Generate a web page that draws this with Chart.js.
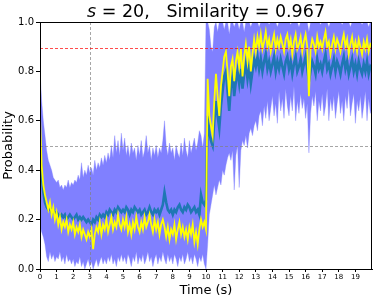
<!DOCTYPE html>
<html>
<head>
<meta charset="utf-8">
<script src="https://cdn.jsdelivr.net/npm/chart.js@4"></script>
<style>
  html, body { margin: 0; padding: 0; background: #fff; }
  #wrap { width: 374px; height: 302px; position: relative; }
</style>
</head>
<body>
<div id="wrap"><canvas id="simChart"></canvas></div>
<script>
// sampled every 0.1 s, from 0 to 20 s
const sampleStep = 0.1;
const xTicks = [0,1,2,3,4,5,6,7,8,9,10,11,12,13,14,15,16,17,18,19];
const yTicks = [0, 0.2, 0.4, 0.6, 0.8, 1.0];

const trueProb = [
  0.62,0.42,0.34,0.30,0.27,0.24,0.27,0.22,0.25,0.20,
  0.23,0.18,0.21,0.16,0.19,0.17,0.20,0.15,0.18,0.16,
  0.19,0.14,0.17,0.15,0.18,0.13,0.16,0.14,0.12,0.15,
  0.13,0.16,0.08,0.14,0.17,0.15,0.19,0.14,0.18,0.16,
  0.20,0.15,0.18,0.21,0.16,0.19,0.17,0.22,0.18,0.16,
  0.20,0.17,0.21,0.15,0.18,0.14,0.19,0.16,0.21,0.17,
  0.15,0.19,0.16,0.21,0.17,0.19,0.22,0.18,0.15,0.20,
  0.16,0.19,0.14,0.18,0.20,0.17,0.13,0.17,0.12,0.16,
  0.14,0.18,0.12,0.16,0.19,0.14,0.17,0.13,0.16,0.12,
  0.17,0.14,0.18,0.11,0.15,0.10,0.16,0.20,0.17,0.19,
  0.16,0.77,0.62,0.58,0.54,0.68,0.79,0.70,0.62,0.74,
  0.80,0.86,0.88,0.80,0.70,0.82,0.85,0.76,0.84,0.88,
  0.82,0.89,0.78,0.86,0.91,0.84,0.90,0.80,0.87,0.93,
  0.88,0.94,0.90,0.95,0.89,0.92,0.96,0.90,0.93,0.88,
  0.92,0.95,0.89,0.93,0.90,0.94,0.91,0.88,0.93,0.95,
  0.90,0.93,0.87,0.92,0.95,0.89,0.91,0.94,0.88,0.92,
  0.95,0.90,0.70,0.89,0.93,0.91,0.88,0.94,0.90,0.92,
  0.89,0.93,0.96,0.90,0.92,0.87,0.91,0.94,0.89,0.93,
  0.91,0.88,0.92,0.95,0.90,0.93,0.87,0.91,0.94,0.89,
  0.92,0.88,0.93,0.90,0.87,0.92,0.89,0.93,0.88,0.91,
  0.90
];

const meanProb = [
  0.48,0.38,0.31,0.27,0.25,0.24,0.25,0.23,0.24,0.22,
  0.23,0.22,0.21,0.22,0.21,0.22,0.20,0.21,0.22,0.21,
  0.20,0.21,0.22,0.20,0.21,0.20,0.21,0.20,0.19,0.20,
  0.19,0.18,0.20,0.19,0.21,0.20,0.22,0.21,0.22,0.21,
  0.23,0.22,0.24,0.23,0.22,0.24,0.23,0.25,0.24,0.23,
  0.24,0.23,0.25,0.24,0.22,0.24,0.23,0.25,0.24,0.23,
  0.24,0.22,0.23,0.24,0.22,0.23,0.25,0.23,0.22,0.24,
  0.23,0.24,0.22,0.24,0.26,0.31,0.27,0.24,0.23,0.24,
  0.22,0.24,0.23,0.25,0.26,0.24,0.23,0.25,0.24,0.26,
  0.25,0.23,0.24,0.25,0.23,0.24,0.22,0.30,0.27,0.26,
  0.28,0.62,0.55,0.52,0.50,0.60,0.68,0.62,0.57,0.66,
  0.72,0.78,0.80,0.72,0.64,0.74,0.78,0.70,0.76,0.80,
  0.75,0.81,0.73,0.79,0.83,0.77,0.82,0.75,0.80,0.85,
  0.82,0.86,0.81,0.85,0.80,0.84,0.87,0.81,0.84,0.80,
  0.83,0.86,0.80,0.84,0.81,0.85,0.82,0.79,0.84,0.86,
  0.81,0.84,0.79,0.83,0.86,0.80,0.82,0.85,0.80,0.83,
  0.86,0.81,0.76,0.80,0.84,0.82,0.79,0.85,0.81,0.83,
  0.80,0.84,0.87,0.81,0.83,0.79,0.82,0.85,0.80,0.84,
  0.82,0.79,0.83,0.86,0.81,0.84,0.79,0.82,0.85,0.80,
  0.83,0.79,0.84,0.81,0.79,0.83,0.80,0.84,0.79,0.82,
  0.81
];

const bandUpper = [
  0.80,0.68,0.60,0.54,0.48,0.44,0.42,0.40,0.37,0.36,
  0.35,0.36,0.33,0.34,0.32,0.34,0.33,0.36,0.33,0.35,
  0.34,0.36,0.35,0.38,0.36,0.43,0.37,0.40,0.38,0.42,
  0.39,0.41,0.38,0.44,0.40,0.43,0.41,0.45,0.42,0.46,
  0.43,0.47,0.44,0.50,0.45,0.54,0.47,0.52,0.46,0.55,
  0.48,0.53,0.46,0.50,0.45,0.51,0.47,0.49,0.44,0.50,
  0.46,0.52,0.45,0.48,0.54,0.47,0.50,0.44,0.49,0.46,
  0.50,0.45,0.49,0.47,0.52,0.60,0.50,0.46,0.51,0.47,
  0.49,0.44,0.50,0.47,0.45,0.51,0.46,0.53,0.48,0.45,
  0.52,0.47,0.50,0.53,0.48,0.51,0.56,0.54,0.49,0.55,
  1.00,1.00,0.97,0.90,0.88,0.98,1.00,0.96,1.00,1.00,
  1.00,0.97,1.00,1.00,0.95,1.00,1.00,0.98,1.00,1.00,
  0.97,1.00,1.00,0.96,1.00,1.00,1.00,0.98,1.00,1.00,
  1.00,1.00,0.98,1.00,1.00,1.00,1.00,1.00,0.99,1.00,
  1.00,1.00,1.00,0.98,1.00,1.00,1.00,1.00,1.00,1.00,
  1.00,0.99,1.00,1.00,1.00,1.00,0.98,1.00,1.00,1.00,
  1.00,1.00,0.96,1.00,1.00,1.00,1.00,1.00,1.00,0.99,
  1.00,1.00,1.00,1.00,0.98,1.00,1.00,1.00,1.00,1.00,
  1.00,1.00,0.99,1.00,1.00,1.00,1.00,0.98,1.00,1.00,
  1.00,1.00,1.00,1.00,0.99,1.00,1.00,1.00,0.98,1.00,
  1.00
];

const bandLower = [
  0.18,0.15,0.13,0.10,0.05,0.03,0.07,0.04,0.06,0.03,
  0.05,0.04,0.07,0.03,0.05,0.02,0.06,0.03,0.04,0.02,
  0.04,0.01,0.03,0.02,0.05,0.01,0.03,0.00,0.02,0.04,
  0.01,0.03,0.00,0.02,0.04,0.01,0.03,0.05,0.02,0.04,
  0.02,0.05,0.03,0.06,0.02,0.04,0.01,0.05,0.03,0.06,
  0.03,0.05,0.02,0.06,0.04,0.01,0.05,0.03,0.07,0.02,
  0.05,0.03,0.06,0.02,0.04,0.07,0.03,0.05,0.01,0.04,
  0.06,0.02,0.05,0.03,0.07,0.04,0.02,0.06,0.03,0.05,
  0.02,0.06,0.04,0.01,0.05,0.03,0.06,0.02,0.04,0.07,
  0.03,0.05,0.02,0.06,0.04,0.01,0.05,0.03,0.06,0.02,
  0.00,0.10,0.22,0.26,0.30,0.34,0.30,0.33,0.36,0.34,
  0.40,0.38,0.42,0.45,0.47,0.44,0.48,0.32,0.46,0.50,
  0.33,0.48,0.52,0.50,0.54,0.49,0.55,0.57,0.54,0.58,
  0.60,0.56,0.62,0.64,0.58,0.66,0.61,0.68,0.60,0.65,
  0.70,0.62,0.67,0.59,0.72,0.64,0.69,0.61,0.73,0.66,
  0.62,0.70,0.64,0.74,0.60,0.68,0.63,0.71,0.65,0.69,
  0.61,0.67,0.47,0.63,0.70,0.66,0.72,0.60,0.68,0.64,
  0.71,0.62,0.66,0.73,0.60,0.69,0.64,0.70,0.61,0.67,
  0.72,0.63,0.68,0.60,0.70,0.65,0.73,0.62,0.67,0.71,
  0.59,0.68,0.64,0.70,0.61,0.66,0.72,0.60,0.69,0.63,
  0.66
];

// reference lines: threshold, chance level, marker time
const thresholdLevel = 0.893;
const chanceLevel = 0.5;
const markerTime = 3;

const toPoints = arr => arr.map((v, i) => ({ x: +(i * sampleStep).toFixed(1), y: v }));

const font = "'DejaVu Sans', sans-serif";

const framePlugin = {
  id: "frame",
  afterDatasetsDraw(chart) {
    const { ctx, chartArea: a, scales: { x, y } } = chart;
    ctx.save();
    ctx.beginPath();
    ctx.rect(a.left, a.top, a.right - a.left, a.bottom - a.top);
    ctx.clip();
    ctx.lineWidth = 1;
    ctx.setLineDash([3, 2]);
    // chance level + marker
    ctx.strokeStyle = "rgba(128,128,128,0.7)";
    let py = Math.round(y.getPixelForValue(chanceLevel)) + 0.5;
    ctx.beginPath(); ctx.moveTo(a.left, py); ctx.lineTo(a.right, py); ctx.stroke();
    let px = Math.round(x.getPixelForValue(markerTime)) + 0.5;
    ctx.beginPath(); ctx.moveTo(px, a.top); ctx.lineTo(px, a.bottom); ctx.stroke();
    // threshold
    ctx.strokeStyle = "rgba(255,0,0,0.7)";
    py = Math.round(y.getPixelForValue(thresholdLevel)) + 0.5;
    ctx.beginPath(); ctx.moveTo(a.left, py); ctx.lineTo(a.right, py); ctx.stroke();
    ctx.restore();
  },
  afterDraw(chart) {
    const { ctx, chartArea: a } = chart;
    ctx.save();
    ctx.strokeStyle = "#000";
    ctx.lineWidth = 1;
    ctx.strokeRect(Math.round(a.left) + 0.5, Math.round(a.top) + 0.5,
      Math.round(a.right - a.left) - 1, Math.round(a.bottom - a.top));

    // title: italic s, rest upright
    const cx = (a.left + a.right) / 2;
    const part1 = "s";
    const part2 = " = 20,   Similarity = 0.967";
    const size = 17.5;
    ctx.fillStyle = "#000";
    ctx.textBaseline = "alphabetic";
    ctx.font = "italic " + size + "px " + font;
    const w1 = ctx.measureText(part1).width;
    ctx.font = size + "px " + font;
    const w2 = ctx.measureText(part2).width;
    let start = cx - (w1 + w2) / 2;
    ctx.font = "italic " + size + "px " + font;
    ctx.textAlign = "left";
    ctx.fillText(part1, start, 17);
    ctx.font = size + "px " + font;
    ctx.fillText(part2, start + w1, 17);

    // axis titles
    ctx.font = "13px " + font;
    ctx.textAlign = "center";
    ctx.textBaseline = "middle";
    ctx.fillText("Time (s)", cx, 291);
    ctx.translate(9, (a.top + a.bottom) / 2);
    ctx.rotate(-Math.PI / 2);
    ctx.fillText("Probability", 0, 0);
    ctx.restore();
  }
};

const ctx = document.getElementById("simChart").getContext("2d");
new Chart(ctx, {
  type: "line",
  data: {
    datasets: [
      {
        label: "true",
        data: toPoints(trueProb),
        borderColor: "#ffff00",
        borderWidth: 1.8,
        pointRadius: 0,
        tension: 0,
        fill: false
      },
      {
        label: "mean",
        data: toPoints(meanProb),
        borderColor: "#1f77b4",
        borderWidth: 2.6,
        pointRadius: 0,
        tension: 0,
        fill: false
      },
      {
        label: "upper",
        data: toPoints(bandUpper),
        borderColor: "rgba(128,128,255,0.6)",
        borderWidth: 0.6,
        backgroundColor: "#8080ff",
        pointRadius: 0,
        tension: 0,
        fill: "+1"
      },
      {
        label: "lower",
        data: toPoints(bandLower),
        borderColor: "rgba(128,128,255,0.6)",
        borderWidth: 0.6,
        pointRadius: 0,
        tension: 0,
        fill: false
      }
    ]
  },
  options: {
    responsive: true,
    maintainAspectRatio: false,
    animation: false,
    events: [],
    layout: { padding: { top: 22, right: 2, left: 0, bottom: 0 } },
    plugins: {
      legend: { display: false },
      tooltip: { enabled: false },
      title: { display: false }
    },
    scales: {
      x: {
        type: "linear",
        min: 0,
        max: 20,
        afterBuildTicks: axis => { axis.ticks = xTicks.map(v => ({ value: v })); },
        afterFit: axis => { axis.height = 33; },
        ticks: {
          color: "#000",
          font: { family: font, size: 7 },
          padding: 1,
          maxRotation: 0,
          autoSkip: false,
          callback: v => String(v)
        },
        grid: { drawOnChartArea: false, color: "#000", tickLength: 3 },
        border: { color: "#000", width: 1 }
      },
      y: {
        min: 0,
        max: 1,
        afterBuildTicks: axis => { axis.ticks = yTicks.map(v => ({ value: v })); },
        afterFit: axis => { axis.width = 40; },
        ticks: {
          color: "#000",
          font: { family: font, size: 10 },
          padding: 2,
          callback: v => v.toFixed(1)
        },
        grid: { drawOnChartArea: false, color: "#000", tickLength: 4 },
        border: { color: "#000", width: 1 }
      }
    }
  },
  plugins: [framePlugin]
});
</script>
</body>
</html>
